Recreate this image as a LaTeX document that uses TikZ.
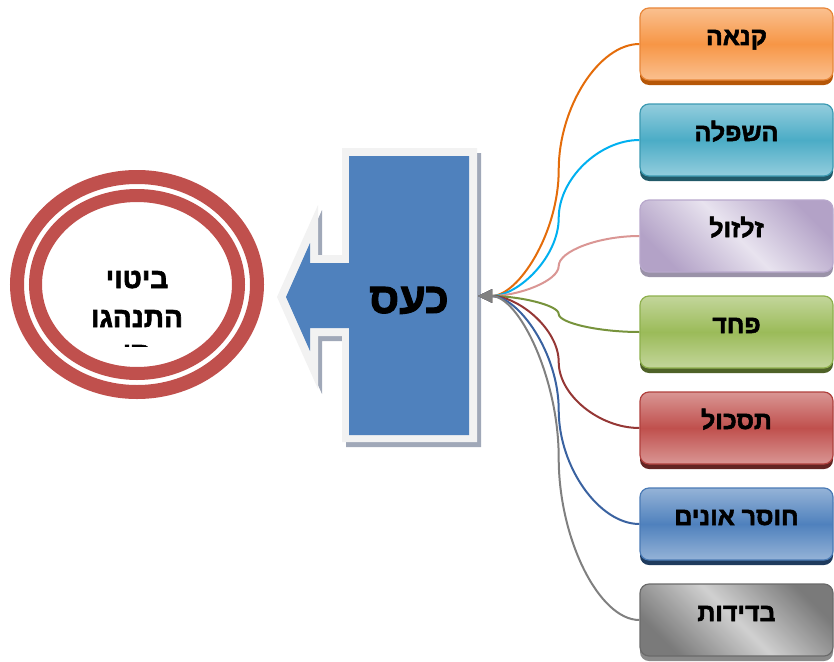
\documentclass[tikz,border=0pt]{standalone}
\usepackage{fontspec}
\usetikzlibrary{shapes.geometric,arrows.meta,calc,shadows}
\newfontfamily\hebfont[Script=Hebrew, FakeBold=2.2]{Liberation Sans Bold}
\TeXXeTstate=1
\definecolor{ringred}{HTML}{C0504D}
\definecolor{arrblue}{HTML}{4F81BD}
\definecolor{arrborder}{HTML}{F2F2F2}
\definecolor{arrshadow}{HTML}{A0A8B8}
\definecolor{oLight}{HTML}{FAC08F}\definecolor{oMid}{HTML}{F79646}\definecolor{oBord}{HTML}{E8873A}\definecolor{oDark}{HTML}{B65708}
\definecolor{tLight}{HTML}{93CDDD}\definecolor{tMid}{HTML}{4BACC6}\definecolor{tBord}{HTML}{3C9AB2}\definecolor{tDark}{HTML}{215968}
\definecolor{lLight}{HTML}{E8E3EF}\definecolor{lMid}{HTML}{B3A2C7}\definecolor{lBord}{HTML}{B8A8CC}\definecolor{lDark}{HTML}{9A92A8}
\definecolor{gLight}{HTML}{C3D69B}\definecolor{gMid}{HTML}{9BBB59}\definecolor{gBord}{HTML}{8EB04D}\definecolor{gDark}{HTML}{4F6228}
\definecolor{rLight}{HTML}{D99694}\definecolor{rMid}{HTML}{C0504D}\definecolor{rBord}{HTML}{B0403D}\definecolor{rDark}{HTML}{632523}
\definecolor{bLight}{HTML}{95B3D7}\definecolor{bMid}{HTML}{4F81BD}\definecolor{bBord}{HTML}{4A7AB5}\definecolor{bDark}{HTML}{1F3B5E}
\definecolor{yLight}{HTML}{D0D0D0}\definecolor{yMid}{HTML}{7A7A7A}\definecolor{yBord}{HTML}{6A6A6A}\definecolor{yDark}{HTML}{8A8A8A}
\definecolor{c1}{HTML}{E46C0A}
\definecolor{c2}{HTML}{00B0F0}
\definecolor{c3}{HTML}{DA9694}
\definecolor{c4}{HTML}{77933C}
\definecolor{c5}{HTML}{953735}
\definecolor{c6}{HTML}{3A62A0}
\definecolor{c7}{HTML}{808080}
\begin{document}
\begin{tikzpicture}[x=1pt,y=-1pt,
  box/.style={rounded corners=9pt, minimum width=193pt, minimum height=72pt,
    inner sep=0pt, line width=1.2pt, text height=10pt, text depth=8pt,
    font=\hebfont\fontsize{25}{28}\selectfont},
  vgrad/.style n args={4}{top color=#1, bottom color=#1, middle color=#2, draw=#3,
    drop shadow={shadow xshift=0pt, shadow yshift=-5pt, fill=#4, opacity=1}},
  dgrad/.style n args={4}{top color=#2, bottom color=#2, middle color=#1, shading angle=-45, draw=#3,
    drop shadow={shadow xshift=0pt, shadow yshift=-5pt, fill=#4, opacity=1}},
  conn/.style={line width=2pt, -{Triangle[length=14pt,width=13pt]}},
  hebtext/.style={font=\hebfont\fontsize{28}{30}\selectfont, inner sep=0pt, anchor=base}
]
\useasboundingbox (0,0) rectangle (834,661);

% goal ellipse
\node[ellipse, draw=ringred, line width=14pt, minimum width=240pt, minimum height=215pt, inner sep=0pt] (goal) at (137,284.5) {};
\node[ellipse, draw=ringred, line width=13pt, minimum width=203pt, minimum height=178pt, inner sep=0pt] (goalin) at (137,284.5) {};
\begin{scope}
\clip (40,200) rectangle (235,346);
\node[hebtext] (g1) at (137,288) {\beginR ביטוי\endR};
\node[hebtext] (g2) at (137,327) {\beginR התנהגו\endR};
\node[hebtext] (g3) at (137,362) {\beginR תי\endR};
\end{scope}

% central arrow
\fill[arrshadow, shift={(4,5)}] (342,148) -- (477,148) -- (477,442) -- (342,442) -- (342,336) -- (318,336) -- (318,389) -- (277,297) -- (318,205) -- (318,255) -- (342,255) -- cycle;
\fill[arrborder] (342,148) -- (477,148) -- (477,442) -- (342,442) -- (342,336) -- (318,336) -- (318,389) -- (277,297) -- (318,205) -- (318,255) -- (342,255) -- cycle;
\fill[arrblue] (349,156) -- (469,156) -- (469,435) -- (349,435) -- (349,328) -- (310,328) -- (310,351) -- (286,297) -- (310,243) -- (310,263) -- (349,263) -- cycle;
\node[font=\hebfont\fontsize{43}{46}\selectfont, inner sep=0pt, anchor=base] (anger) at (409,313) {\beginR כעס\endR};
\coordinate (tip) at (478,296);

% boxes
\node[box, vgrad={oLight}{oMid}{oBord}{oDark}] (b1) at (736.5,44) {\beginR קנאה\endR};
\node[box, vgrad={tLight}{tMid}{tBord}{tDark}] (b2) at (736.5,140) {\beginR השפלה\endR};
\node[box, dgrad={lLight}{lMid}{lBord}{lDark}] (b3) at (736.5,236) {\beginR זלזול\endR};
\node[box, vgrad={gLight}{gMid}{gBord}{gDark}] (b4) at (736.5,332) {\beginR פחד\endR};
\node[box, vgrad={rLight}{rMid}{rBord}{rDark}] (b5) at (736.5,428) {\beginR תסכול\endR};
\node[box, vgrad={bLight}{bMid}{bBord}{bDark}] (b6) at (736.5,524) {\beginR חוסר אונים\endR};
\node[box, dgrad={yLight}{yMid}{yBord}{yDark}] (b7) at (736.5,620) {\beginR בדידות\endR};

% connectors
\foreach \b/\c in {b1/c1,b2/c2,b3/c3,b4/c4,b5/c5,b6/c6,b7/c7}{
  \coordinate (q1) at ($(tip)!0.25!(\b.west)$);
  \coordinate (mm) at ($(tip)!0.5!(\b.west)$);
  \coordinate (q3) at ($(tip)!0.75!(\b.west)$);
  \draw[conn, draw=\c] (\b.west) .. controls (q3 |- \b.west) and (mm |- q3) .. (mm)
     .. controls (mm |- q1) and (q1 |- tip) .. (tip);
}
\end{tikzpicture}
\end{document}
